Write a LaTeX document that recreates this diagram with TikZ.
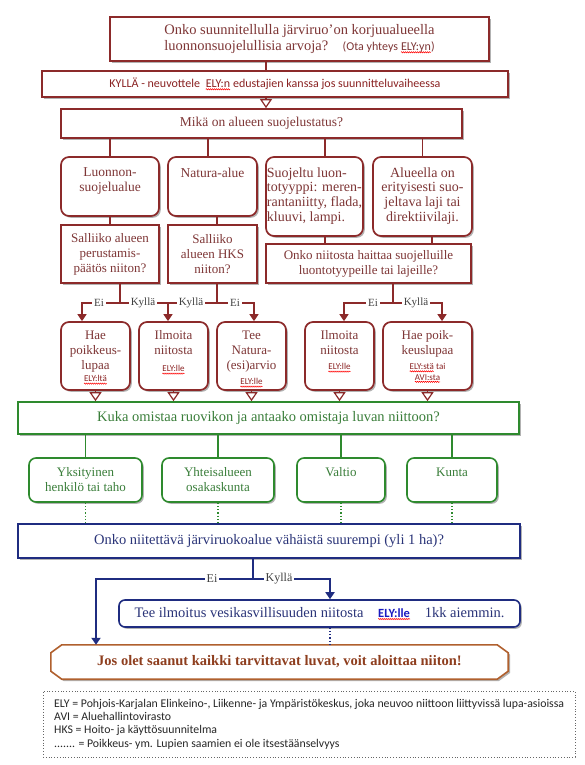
\documentclass[tikz,border=0pt]{standalone}
\usepackage{fontspec}
\setmainfont{Liberation Serif}
\newfontfamily\calib{Carlito}
\usetikzlibrary{arrows.meta,shadows,decorations.pathmorphing}
\definecolor{rline}{HTML}{8C2A2A}
\definecolor{rtext}{HTML}{7E3636}
\definecolor{rtextb}{HTML}{8A2222}
\definecolor{gline}{HTML}{2E8A2E}
\definecolor{gtext}{HTML}{3A7E3A}
\definecolor{bline}{HTML}{1F2C80}
\definecolor{btext}{HTML}{2A3478}
\definecolor{oline}{HTML}{B0602E}
\definecolor{otext}{HTML}{8E3E1E}
\definecolor{elyblue}{HTML}{1A1AC0}
\definecolor{lbl}{HTML}{404040}
\newcommand\redwave[1]{\tikz[baseline=(wv.base),x=1pt,y=1pt]{\node[shape=rectangle,inner sep=0pt,outer sep=0pt,draw=none,fill=none,minimum size=0pt,anchor=base] (wv) at (0,0) {#1};\draw[red,line width=0.5pt,rounded corners=0pt,decorate,decoration={snake,amplitude=0.6pt,segment length=2pt}] ([yshift=-1.8pt]wv.base west) -- ([yshift=-1.8pt]wv.base east);}}
\newcommand\bxfont{\fontsize{13}{15}\selectfont}
\tikzset{
  sh/.style={drop shadow={shadow xshift=1.8pt,shadow yshift=-1.8pt,fill=black,opacity=0.3}},
  rbox/.style={draw=rline,line width=1.7pt,fill=white,inner sep=0pt,sh,text=rtext,font=\bxfont,align=center},
  rrbox/.style={rbox,rounded corners=8pt},
  gbox/.style={draw=gline,line width=1.6pt,fill=white,inner sep=0pt,sh,text=gtext,font=\bxfont,align=center},
  grbox/.style={gbox,rounded corners=7pt},
  bbox/.style={draw=bline,line width=1.6pt,fill=white,inner sep=0pt,sh,text=btext,font=\bxfont,align=center},
  brbox/.style={bbox,rounded corners=6pt},
  rtxt/.style={inner sep=0pt,text=rtext,font=\bxfont,align=center},
  gtxt/.style={inner sep=0pt,text=gtext,font=\bxfont,align=center},
  elysmall/.style={inner sep=0pt,text=rtextb,font=\calib\fontsize{9}{10.5}\selectfont,align=center},
  rcon/.style={draw=rline,line width=1.6pt},
  gcon/.style={draw=gline,line width=1.5pt},
  bcon/.style={draw=bline,line width=1.8pt},
  openarr/.style={-{Triangle[open,length=9pt,width=12pt,line width=1.2pt]}},
  solidarr/.style={-{Triangle[length=7pt,width=9pt]}},
  yn/.style={fill=white,inner sep=2pt,text=lbl,font=\fontsize{11}{13}\selectfont},
  ynb/.style={fill=white,inner sep=2pt,text=lbl,font=\fontsize{12}{14}\selectfont},
}
\begin{document}
\begin{tikzpicture}[x=1pt,y=-1pt]
\useasboundingbox (0,0) rectangle (584,765);
% ---------- top
\node[rbox,minimum width=379pt,minimum height=44pt,font=\fontsize{14.5}{16}\selectfont] (q1) at (299.5,39)
  {Onko suunnitellulla järviruo’on korjuualueella\\luonnonsuojelullisia arvoja?\quad{\calib\fontsize{12}{13}\selectfont(Ota yhteys \redwave{ELY:yn})}};
\node[rbox,font=\calib\fontsize{12}{13}\selectfont,text=rtextb,minimum width=466pt,minimum height=26pt] (q2) at (275,84)
  {KYLLÄ - neuvottele\ \ \redwave{ELY:n} edustajien kanssa jos suunnitteluvaiheessa};
\node[rbox,minimum width=401pt,minimum height=29pt,font=\fontsize{13.5}{15}\selectfont] (q3) at (261.5,123.5) {Mikä on alueen suojelustatus?};
\coordinate (c12) at (266,0);
\draw[rcon] (c12 |- q1.south) -- (c12 |- q2.north);
\draw[rcon,openarr] (c12 |- q2.south) -- (c12 |- q3.north);
% ---------- status boxes
\node[rrbox,minimum width=98pt,minimum height=59pt] (b1) at (110,186.5) {};
\node[rrbox,minimum width=89pt,minimum height=59pt] (b2) at (212.5,186.5) {};
\node[rrbox,minimum width=97pt,minimum height=79pt] (b3) at (314.5,196.5) {};
\node[rrbox,minimum width=99pt,minimum height=79pt] (b4) at (422.5,196.5) {};
\node[rtxt,anchor=north,font=\fontsize{13.5}{15}\selectfont] (b1t) at ([yshift=-11.5pt]b1.north) {Luonnon-\\suojelualue};
\node[rtxt,anchor=north,font=\fontsize{13.5}{15}\selectfont] (b2t) at ([yshift=-11.5pt]b2.north) {Natura-alue};
\node[rtxt,anchor=north,align=left,font=\fontsize{14}{14.7}\selectfont] (b3t) at ([yshift=-11pt]b3.north) {Suojeltu luon-\\totyyppi: meren-\\rantaniitty, flada,\\kluuvi, lampi.};
\node[rtxt,anchor=north,font=\fontsize{14}{14.7}\selectfont] (b4t) at ([yshift=-11pt]b4.north) {Alueella on\\erityisesti suo-\\jeltava laji tai\\direktiivilaji.};
\coordinate (xb2) at (208,0);
\coordinate (xb3) at (325,0);
\draw[rcon] (b1.north |- q3.south) -- (b1.north);
\draw[rcon] (xb2 |- q3.south) -- (xb2 |- b2.north);
\draw[rcon] (xb3 |- q3.south) -- (xb3 |- b3.north);
\draw[rcon] (b4.north |- q3.south) -- (b4.north);
% ---------- question boxes
\node[rbox,minimum width=98pt,minimum height=58pt] (s1) at (110,254) {Salliiko alueen\\perustamis-\\päätös niiton?};
\node[rbox,minimum width=89pt,minimum height=58pt] (s2) at (212.5,254) {Salliiko\\alueen HKS\\niiton?};
\node[rbox,minimum width=205pt,minimum height=39pt] (s3) at (368.5,263.5) {Onko niitosta haittaa suojelluille\\luontotyypeille tai lajeille?};
\coordinate (xs2) at (217,0);
\coordinate (xs3a) at (325,0);
\coordinate (xs3b) at (432,0);
\draw[rcon] (b1.south) -- (s1.north);
\draw[rcon] (xs2 |- b2.south) -- (xs2 |- s2.north);
\draw[rcon] (xs3a |- b3.south) -- (xs3a |- s3.north);
\draw[rcon] (xs3b |- b4.south) -- (xs3b |- s3.north);
% ---------- result boxes
\node[rrbox,minimum width=69pt,minimum height=68pt] (r1) at (95.5,356) {};
\node[rrbox,minimum width=69pt,minimum height=68pt] (r2) at (173.5,356) {};
\node[rrbox,minimum width=69pt,minimum height=68pt] (r3) at (251.5,356) {};
\node[rrbox,minimum width=69pt,minimum height=68pt] (r4) at (339.5,356) {};
\node[rrbox,minimum width=89pt,minimum height=68pt] (r5) at (427.5,356) {};
\node[rtxt,anchor=north] (r1t) at ([yshift=-9.5pt]r1.north) {Hae\\poikkeus-\\lupaa};
\node[rtxt,anchor=north] (r2t) at ([yshift=-9.5pt]r2.north) {Ilmoita\\niitosta};
\node[rtxt,anchor=north] (r3t) at ([yshift=-9.5pt]r3.north) {Tee\\Natura-\\(esi)arvio};
\node[rtxt,anchor=north] (r4t) at ([yshift=-9.5pt]r4.north) {Ilmoita\\niitosta};
\node[rtxt,anchor=north] (r5t) at ([yshift=-9.5pt]r5.north) {Hae poik-\\keuslupaa};
\node[elysmall] (r1e) at (95.5,380) {\redwave{ELY:ltä}};
\node[elysmall] (r2e) at (173.5,370) {\redwave{ELY:lle}};
\node[elysmall] (r3e) at (251.5,383) {\redwave{ELY:lle}};
\node[elysmall] (r4e) at (339.5,368) {\redwave{ELY:lle}};
\node[elysmall] (r5e) at (427.5,373) {\redwave{ELY:stä} tai\\\redwave{AVI:sta}};
% ---------- branches (red)
\coordinate (j1) at (120,303);
\coordinate (j2) at (217,303);
\coordinate (j3) at (393,303);
\coordinate (a1) at (82,0);
\coordinate (a2) at (168,0);
\coordinate (a3) at (254,0);
\coordinate (a4) at (344,0);
\coordinate (a5) at (442,0);
\draw[rcon] (j1 |- s1.south) -- (j1);
\draw[rcon] (j2 |- s2.south) -- (j2);
\draw[rcon] (j3 |- s3.south) -- (j3);
\draw[rcon,solidarr] (j1) -| (a1 |- r1.north);
\draw[rcon,solidarr] (j1) -| (a2 |- r2.north);
\draw[rcon] (j2) -- (a2 |- j2);
\draw[rcon,solidarr] (j2) -| (a3 |- r3.north);
\draw[rcon,solidarr] (j3) -| (a4 |- r4.north);
\draw[rcon,solidarr] (j3) -| (a5 |- r5.north);
\node[yn] (l1) at (99,303) {Ei};
\node[yn] (l2) at (143,303) {Kyllä};
\node[yn] (l3) at (191,303) {Kyllä};
\node[yn] (l4) at (235,303) {Ei};
\node[yn] (l5) at (373,303) {Ei};
\node[yn] (l6) at (416,303) {Kyllä};
% ---------- owner
\node[gbox,minimum width=501pt,minimum height=32pt,font=\fontsize{14.5}{16}\selectfont] (g0) at (268.5,418) {Kuka omistaa ruovikon ja antaako omistaja luvan niittoon?};
\foreach \r in {r1,r2,r3,r4,r5}{
  \draw[rcon,openarr] (\r.south) -- (\r.south |- g0.north);
}
\node[grbox,minimum width=113pt,minimum height=44pt] (g1) at (85.5,480) {};
\node[grbox,minimum width=112pt,minimum height=44pt] (g2) at (218,480) {};
\node[grbox,minimum width=88pt,minimum height=44pt] (g3) at (341,480) {};
\node[grbox,minimum width=90pt,minimum height=44pt] (g4) at (452,480) {};
\node[gtxt,anchor=north] (g1t) at ([yshift=-10.5pt]g1.north) {Yksityinen\\henkilö tai taho};
\node[gtxt,anchor=north] (g2t) at ([yshift=-10.5pt]g2.north) {Yhteisalueen\\osakaskunta};
\node[gtxt,anchor=north] (g3t) at ([yshift=-10.5pt]g3.north) {Valtio};
\node[gtxt,anchor=north] (g4t) at ([yshift=-10.5pt]g4.north) {Kunta};
\foreach \g in {g1,g2,g3,g4}{
  \draw[gcon] (\g.north |- g0.south) -- (\g.north);
}
% ---------- area size
\node[bbox,minimum width=502pt,minimum height=34pt,font=\fontsize{14.5}{16}\selectfont] (bq) at (269,541) {Onko niitettävä järviruokoalue vähäistä suurempi (yli 1 ha)?};
\foreach \g in {g1,g2,g3,g4}{
  \draw[gcon,line width=1.2pt,dotted] (\g.south) -- (\g.south |- bq.north);
}
\node[brbox,minimum width=401pt,minimum height=27pt,font=\fontsize{14.5}{16}\selectfont] (br) at (319.5,613.5)
  {Tee ilmoitus vesikasvillisuuden niitosta\quad{\calib\bfseries\fontsize{12.5}{13}\selectfont\color{elyblue}\redwave{ELY:lle}}\quad 1kk aiemmin.};
% final box
\node[minimum width=457pt,minimum height=34pt,inner sep=0pt] (fin) at (279.5,662) {};
\draw[draw=oline,line width=1.6pt,fill=white,sh]
  ([xshift=11pt]fin.north west) -- ([xshift=-11pt]fin.north east) -- ([yshift=-8pt]fin.north east)
  -- ([yshift=8pt]fin.south east) -- ([xshift=-11pt]fin.south east) -- ([xshift=11pt]fin.south west)
  -- ([yshift=8pt]fin.south west) -- ([yshift=-8pt]fin.north west) -- cycle;
\node[inner sep=0pt,text=otext,font=\bfseries\fontsize{14.5}{16}\selectfont] (fint) at (fin.center) {Jos olet saanut kaikki tarvittavat luvat, voit aloittaa niiton!};
% blue branches
\coordinate (jb) at (253,579);
\coordinate (xf) at (96,0);
\coordinate (xr) at (330,0);
\draw[bcon] (jb |- bq.south) -- (jb);
\draw[bcon,solidarr] (jb) -| (xf |- fin.north);
\draw[bcon,solidarr] (jb) -| (xr |- br.north);
\draw[bcon,line width=1.2pt,dotted] (xr |- br.south) -- (xr |- fin.north);
\node[ynb] (lb1) at (212,579) {Ei};
\node[ynb] (lb2) at (279,579) {Kyllä};
% ---------- legend
\node[draw=black!60,dotted,line width=0.8pt,minimum width=532pt,minimum height=66pt] (leg) at (309,724) {};
\node[anchor=west,inner sep=0pt,align=left,text=black!85,font=\calib\fontsize{11.8}{13.4}\selectfont] (legt) at (54,724)
  {ELY = Pohjois-Karjalan Elinkeino-, Liikenne- ja Ympäristökeskus, joka neuvoo niittoon liittyvissä lupa-asioissa\\
   AVI = Aluehallintovirasto\\
   HKS = Hoito- ja käyttösuunnitelma\\
   ....... = Poikkeus- ym. Lupien saamien ei ole itsestäänselvyys};
\end{tikzpicture}
\end{document}
